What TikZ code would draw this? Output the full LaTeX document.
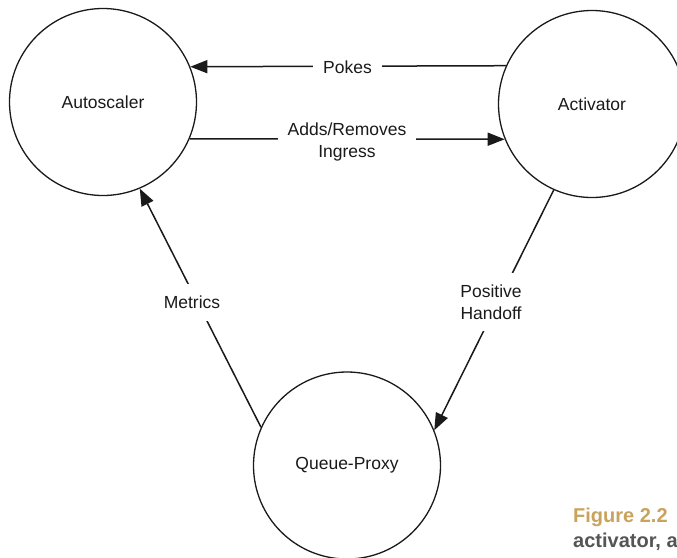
\documentclass[tikz,border=0pt]{standalone}
\usepackage{fontspec}
\setmainfont{Liberation Sans}
\usetikzlibrary{arrows.meta}
\definecolor{capgold}{HTML}{C9A35B}
\definecolor{capgray}{HTML}{555555}
\definecolor{ink}{HTML}{1A1A1A}
\tikzset{
  comp/.style={circle, draw=ink, line width=1.3pt, minimum size=187pt, inner sep=0pt,
    font=\fontsize{17.5}{22}\selectfont, text=ink},
  conn/.style={draw=ink, line width=1.5pt, -{Triangle[length=17pt,width=13pt]}},
  lbl/.style={fill=white, inner xsep=10pt, inner ysep=12pt, align=center,
    font=\fontsize{17.5}{22}\selectfont, text=ink},
  capfont/.style={font=\bfseries\fontsize{20}{24}\selectfont, anchor=west, inner sep=0pt}
}
\begin{document}
\begin{tikzpicture}[x=1pt,y=-1pt]
\useasboundingbox (0,0) rectangle (677,557);
\clip (0,0) rectangle (677,557);
\fill[white] (0,0) rectangle (677,557);

\node[comp] (asc) at (103,102) {Autoscaler};
\node[comp] (act) at (592,104) {Activator};
\node[comp] (qp) at (347,465.5) {Queue-Proxy};

\draw[conn] (act.156) -- (asc.22.6);
\draw[conn] (asc.-23.3) -- (act.202);
\draw[conn] (qp.156.8) -- (asc.-67.2);
\draw[conn] (act.246) -- (qp.22.8);

\node[lbl] (lpokes) at (347.5,67) {Pokes};
\node[lbl] (ladds) at (347,142) {Adds/Removes\\Ingress};
\node[lbl] (lmet) at (192,302.5) {Metrics};
\node[lbl] (lpos) at (491,302) {Positive\\Handoff};

\node[capfont, text=capgold] (cap1) at (573,517) {Figure 2.2};
\node[capfont, text=capgray] (cap2) at (573,541.5) {activator, a};
\end{tikzpicture}
\end{document}
